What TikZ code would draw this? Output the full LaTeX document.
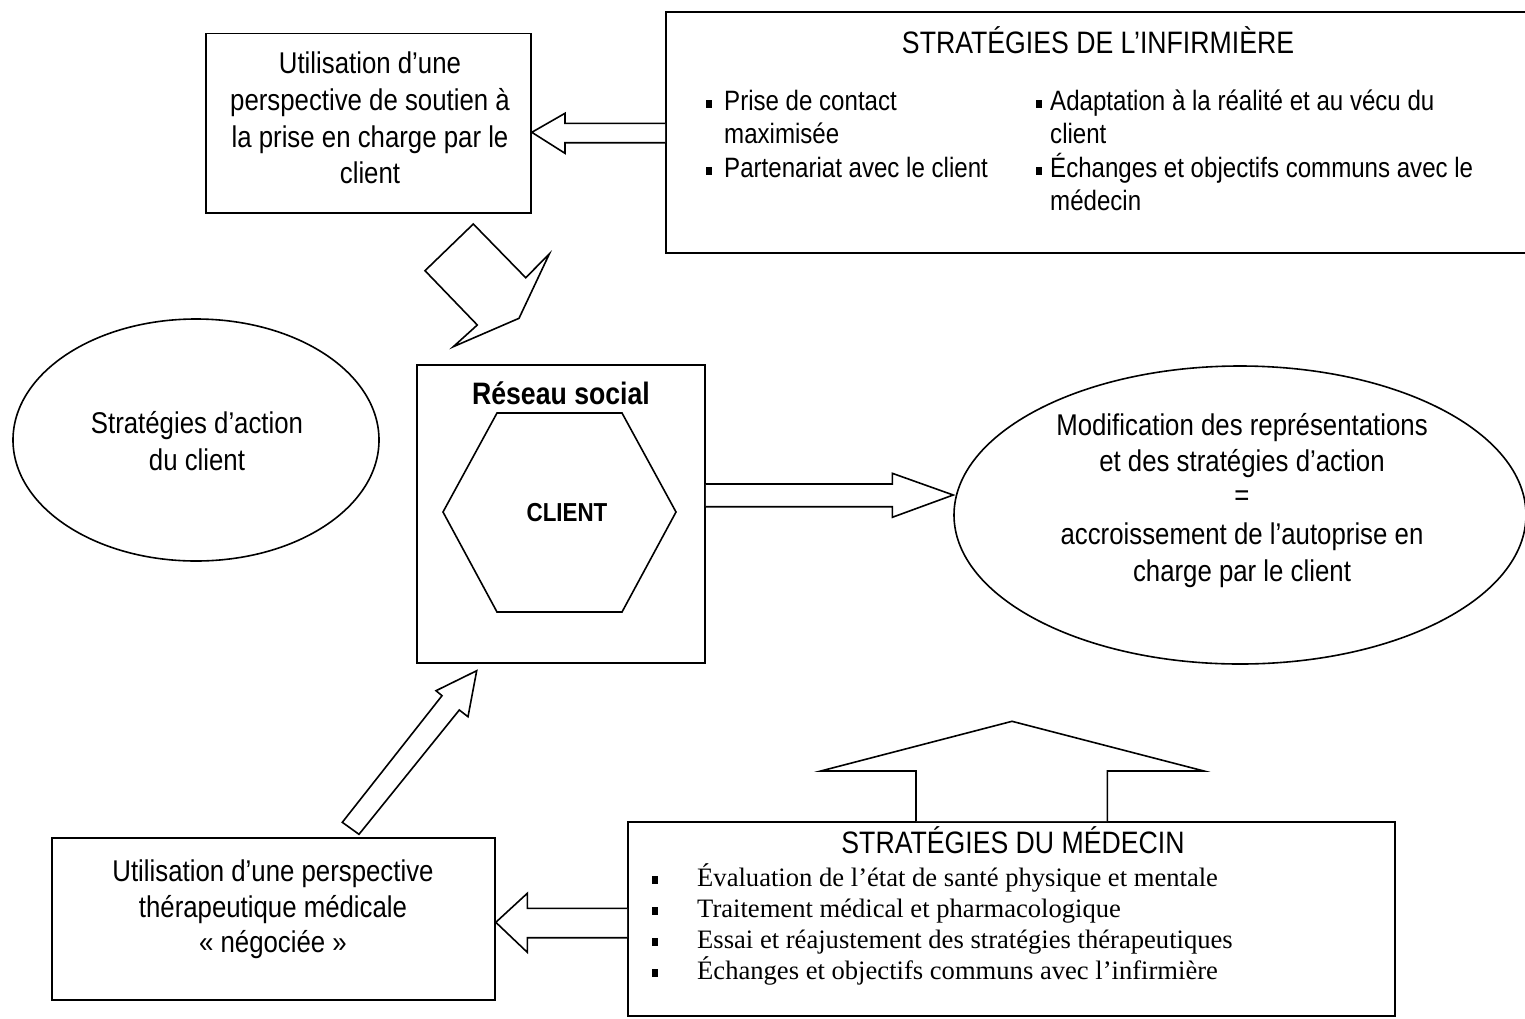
\documentclass[tikz,border=0pt]{standalone}
\usepackage{fontspec}
\setmainfont{Liberation Sans}[FakeStretch=0.86]
\newfontfamily\serifrm{Liberation Serif}
\usetikzlibrary{shapes.geometric}

\tikzset{
  box/.style={draw, line width=1.6pt, inner sep=0pt},
  blk/.style={draw, line width=1.6pt, fill=white, line join=miter},
  ln/.style={inner sep=0pt, anchor=base, font=\fontsize{30}{36}\selectfont},
  lnw/.style={inner sep=0pt, anchor=base west, font=\fontsize{28}{34}\selectfont},
  head/.style={inner sep=0pt, anchor=base, font=\fontsize{31}{38}\selectfont},
  bold/.style={inner sep=0pt, anchor=base, font=\fontsize{31}{36}\selectfont\bfseries},
  tm/.style={inner sep=0pt, anchor=base west, font=\serifrm\fontsize{26.6}{31}\selectfont},
  sq/.style={fill=black, draw=none, inner sep=0pt, minimum width=5.5pt, minimum height=8.5pt, anchor=south west},
}

\begin{document}
\begin{tikzpicture}[x=1pt, y=-1pt]
\useasboundingbox (0,0) rectangle (1525,1018);
\clip (0,0) rectangle (1525,1018);

% ---- boxes and ellipses ----
\node[box, minimum width=325pt, minimum height=179.5pt] (tl) at (368.5,123.25) {};
\node[box, minimum width=870pt, minimum height=241pt] (inf) at (1101,132.5) {};
\node[box, minimum width=288pt, minimum height=298pt] (res) at (561,514) {};
\node[draw, line width=1.6pt, ellipse, minimum width=366pt, minimum height=242pt, inner sep=0pt] (lell) at (196,440) {};
\node[draw, line width=1.6pt, ellipse, minimum width=572pt, minimum height=298pt, inner sep=0pt] (rell) at (1240,515) {};
\node[box, minimum width=443pt, minimum height=162pt] (bl) at (273.5,919) {};
\node[box, minimum width=767pt, minimum height=194pt] (med) at (1011.5,919) {};

% hexagon for the client
\draw[line width=1.6pt, line join=miter] (443,512) -- (497,413) -- (622,413) -- (676,512)
      -- (622,612) -- (497,612) -- cycle;

% ---- block arrows ----
\draw[blk] (inf.west |- 0,123.3) -- (565,123.3) -- (565,113.3) -- (tl.east |- 0,132.3)
           -- (565,153.3) -- (565,142.7) -- (inf.west |- 0,142.7);
\draw[blk] (473.3,224) -- (525.7,277.7) -- (549.3,254) -- (519,318.3)
           -- (453.3,346.7) -- (477.3,325) -- (425,270.7) -- cycle;
\draw[blk] (res.east |- 0,484) -- (892.3,484) -- (892.3,473.3) -- (rell.west |- 0,495)
           -- (892.3,517.3) -- (892.3,506.7) -- (res.east |- 0,506.7);
\draw[blk] (342.3,822.3) -- (442,695.7) -- (436,690.7) -- (476.7,670.7)
           -- (468,716.7) -- (459.3,710) -- (359,834.3) -- cycle;
\draw[blk] (916,0 |- med.north) -- (916,771) -- (820.7,771) -- (1012,721.3)
           -- (1204,771) -- (1107.3,771) -- (1107.3,0 |- med.north);
\draw[blk] (med.west |- 0,908.3) -- (527.3,908.3) -- (527.3,893.3) -- (bl.east |- 0,922.3)
           -- (527.3,952.3) -- (527.3,937.7) -- (med.west |- 0,937.7);

% ---- top-left box text ----
\node[ln] (tl1) at (370,73) {Utilisation d’une};
\node[ln] (tl2) at (370,110) {perspective de soutien à};
\node[ln] (tl3) at (370,147) {la prise en charge par le};
\node[ln] (tl4) at (370,183) {client};

% ---- nurse strategies ----
\node[head] (infh) at (1098,53) {STRATÉGIES DE L’INFIRMIÈRE};
\node[sq] (ib1) at (706,108.5) {};
\node[sq] (ib2) at (706,175.5) {};
\node[sq] (ib3) at (1036,108.5) {};
\node[sq] (ib4) at (1036,175.5) {};
\node[lnw] (i1) at (724,110) {Prise de contact};
\node[lnw] (i2) at (724,143.5) {maximisée};
\node[lnw] (i3) at (724,177) {Partenariat avec le client};
\node[lnw] (i4) at (1050,110) {Adaptation à la réalité et au vécu du};
\node[lnw] (i5) at (1050,143.5) {client};
\node[lnw] (i6) at (1050,177) {Échanges et objectifs communs avec le};
\node[lnw] (i7) at (1050,210.5) {médecin};

% ---- centre ----
\node[bold] (rs) at (561,404) {Réseau social};
\node[bold, font=\fontsize{26}{30}\selectfont\bfseries] (cl) at (567,521) {CLIENT};

% ---- left ellipse ----
\node[ln] (le1) at (197,433) {Stratégies d’action};
\node[ln] (le2) at (197,470) {du client};

% ---- right ellipse ----
\node[ln] (re1) at (1242,435) {Modification des représentations};
\node[ln] (re2) at (1242,471) {et des stratégies d’action};
\node[ln] (re3) at (1242,505) {=};
\node[ln] (re4) at (1242,544) {accroissement de l’autoprise en};
\node[ln] (re5) at (1242,581) {charge par le client};

% ---- bottom-left box ----
\node[ln] (bl1) at (273,881) {Utilisation d’une perspective};
\node[ln] (bl2) at (273,917) {thérapeutique médicale};
\node[ln] (bl3) at (273,952) {« négociée »};

% ---- physician strategies ----
\node[head] (medh) at (1013,853) {STRATÉGIES DU MÉDECIN};
\foreach \y/\n in {886/1, 917/2, 948/3, 979/4}
  \node[sq, minimum width=6pt, minimum height=8pt] (mb\n) at (652,\y-1.5) {};
\node[tm] (m1) at (697,886) {Évaluation de l’état de santé physique et mentale};
\node[tm] (m2) at (697,917) {Traitement médical et pharmacologique};
\node[tm] (m3) at (697,948) {Essai et réajustement des stratégies thérapeutiques};
\node[tm] (m4) at (697,979) {Échanges et objectifs communs avec l’infirmière};
\end{tikzpicture}
\end{document}
